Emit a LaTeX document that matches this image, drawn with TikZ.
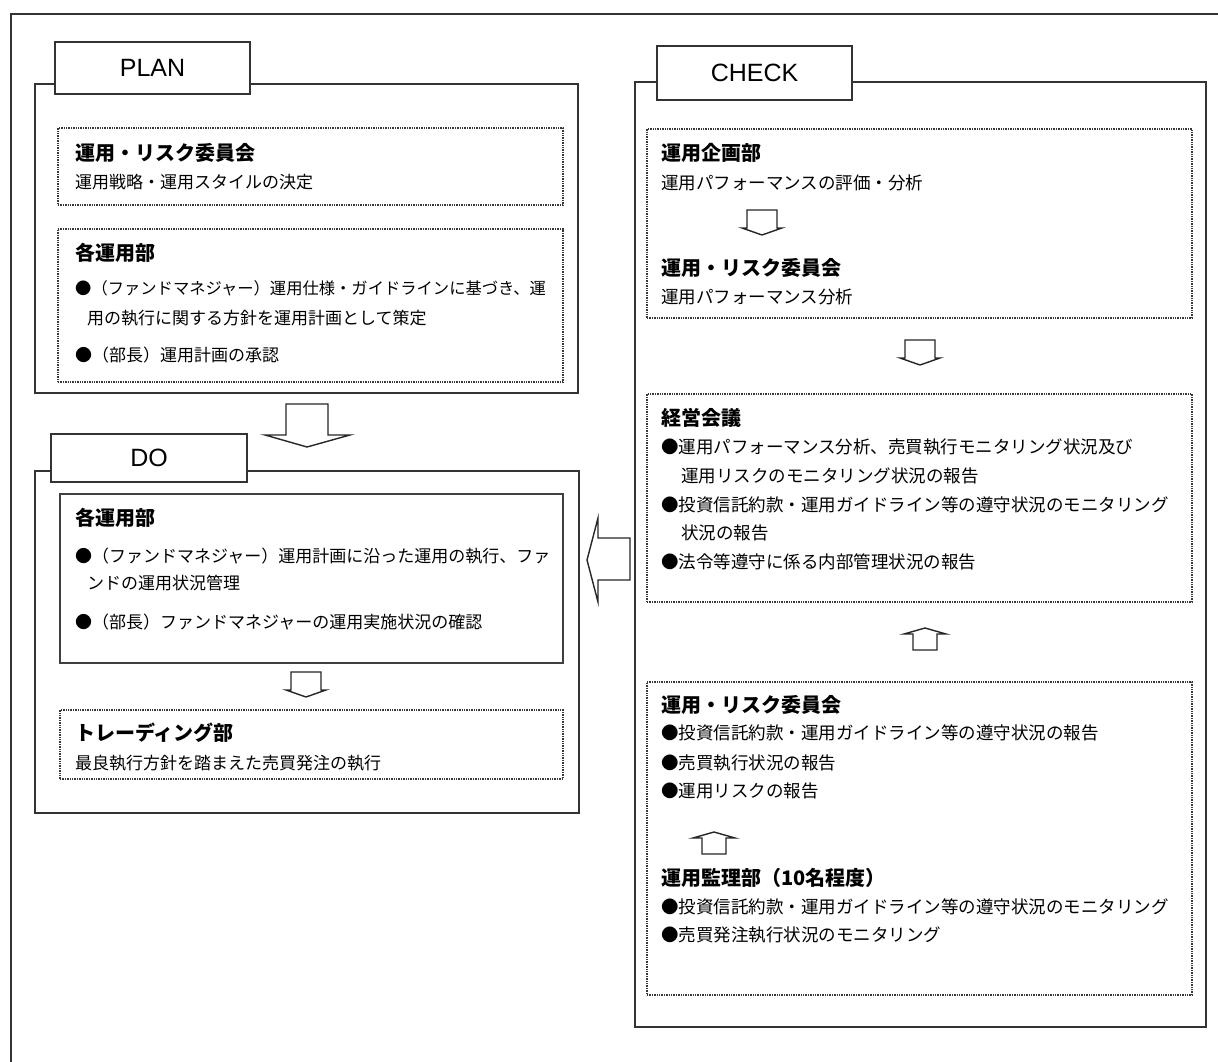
\documentclass[tikz,border=0pt]{standalone}
\usepackage{fontspec}
\setmainfont{Liberation Sans}
\newfontfamily\jp{Noto Sans CJK JP}
\begin{document}
\begin{tikzpicture}[x=1pt,y=-1pt,
  frame/.style={draw=black!80, line width=1.6pt, inner sep=0pt, outer sep=0pt},
  tab/.style={draw=black!80, line width=1.6pt, fill=white, inner sep=0pt, outer sep=0pt, font=\fontsize{25}{30}\selectfont},
  dotbox/.style={draw=black!78, line width=1.4pt, densely dotted, inner sep=0pt, outer sep=0pt},
  solidbox/.style={draw=black!75, line width=1.2pt, inner sep=0pt, outer sep=0pt},
  blk/.style={draw=black!85, line width=1.4pt, fill=white, line join=miter},
  hd/.style={anchor=west, inner sep=0pt, font=\jp\bfseries\fontsize{20}{24}\selectfont, text height=17.6pt, text depth=2.4pt},
  tx/.style={anchor=west, inner sep=0pt, font=\jp\fontsize{17}{20}\selectfont, text height=15pt, text depth=2pt},
  txc/.style={anchor=west, inner sep=0pt, font=\jp\fontsize{17.5}{20}\selectfont, text height=15.4pt, text depth=2.1pt},
  darr/.pic={\draw[blk] (-15,0) -- (15,0) -- (15,18) -- (20,18) -- (0,25) -- (-20,18) -- (-15,18) -- cycle;},
  uarr/.pic={\draw[blk] (0,0) -- (21,6) -- (12,6) -- (12,22) -- (-12,22) -- (-12,6) -- (-21,6) -- cycle;}
]
\useasboundingbox (0,0) rectangle (1218,1062);
% outer frame
\draw[frame] (11,1080) -- (11,14) -- (1240,14);

% PLAN
\node[frame, minimum width=543pt, minimum height=309pt] (planbox) at (306.5,238.5) {};
\node[tab, minimum width=195pt, minimum height=52pt] (plantab) at (152.5,68) {PLAN};
\node[dotbox, minimum width=505pt, minimum height=77pt] (p1) at (310.5,166.5) {};
\node[dotbox, minimum width=505pt, minimum height=153pt] (p2) at (310.5,305.5) {};
\node[hd] (p1h) at (75,153) {運用・リスク委員会};
\node[tx] (p1t) at (75,182) {運用戦略・運用スタイルの決定};
\node[hd] (p2h) at (75,253) {各運用部};
\node[tx, font=\jp\fontsize{16.3}{20}\selectfont] (p2a) at (75,288) {●（ファンドマネジャー）運用仕様・ガイドラインに基づき、運};
\node[tx] (p2b) at (87,318) {用の執行に関する方針を運用計画として策定};
\node[tx] (p2c) at (75,355) {●（部長）運用計画の承認};

% big arrow PLAN -> DO
\draw[blk] (286,404) -- (328,404) -- (328,435) -- (350,435) -- (307,447) -- (265,435) -- (286,435) -- cycle;

% DO
\node[frame, minimum width=544pt, minimum height=342pt] (dobox) at (307,642) {};
\node[tab, minimum width=196pt, minimum height=48pt] (dotab) at (149,458) {DO};
\node[solidbox, minimum width=503pt, minimum height=169pt] (d1) at (311.5,578.5) {};
\node[dotbox, minimum width=503pt, minimum height=69pt] (d2) at (311.5,744.5) {};
\node[hd] (d1h) at (75,518) {各運用部};
\node[tx] (d1a) at (75,556) {●（ファンドマネジャー）運用計画に沿った運用の執行、ファ};
\node[tx] (d1b) at (87,583) {ンドの運用状況管理};
\node[tx] (d1c) at (75,622) {●（部長）ファンドマネジャーの運用実施状況の確認};
\pic at (306,672) {darr};
\node[hd] (d2h) at (75,733) {トレーディング部};
\node[tx] (d2t) at (75,763) {最良執行方針を踏まえた売買発注の執行};

% left arrow CHECK -> DO
\draw[blk] (630,538) -- (598,538) -- (598,518) -- (587,560) -- (598,602) -- (598,580) -- (630,580) -- cycle;

% CHECK
\node[frame, minimum width=571pt, minimum height=945pt] (checkbox) at (920.5,554.5) {};
\node[tab, minimum width=195pt, minimum height=54pt] (checktab) at (754.5,73) {CHECK};
\node[dotbox, minimum width=545pt, minimum height=189pt] (c1) at (919.5,223.5) {};
\node[dotbox, minimum width=545pt, minimum height=208pt] (c2) at (919.5,498) {};
\node[dotbox, minimum width=545pt, minimum height=313pt] (c3) at (919.5,838.5) {};

\node[hd] (c1h) at (661,153) {運用企画部};
\node[txc] (c1t) at (661,183) {運用パフォーマンスの評価・分析};
\pic at (762,210) {darr};
\node[hd] (c1h2) at (661,268) {運用・リスク委員会};
\node[txc] (c1t2) at (661,297) {運用パフォーマンス分析};

\pic at (920,340) {darr};

\node[hd] (c2h) at (661,418) {経営会議};
\node[txc] (c2a) at (661,447) {●運用パフォーマンス分析、売買執行モニタリング状況及び};
\node[txc] (c2b) at (681,476) {運用リスクのモニタリング状況の報告};
\node[txc] (c2c) at (661,505) {●投資信託約款・運用ガイドライン等の遵守状況のモニタリング};
\node[txc] (c2d) at (681,533) {状況の報告};
\node[txc] (c2e) at (661,562) {●法令等遵守に係る内部管理状況の報告};

\pic at (925,628) {uarr};

\node[hd] (c3h) at (661,705) {運用・リスク委員会};
\node[txc] (c3a) at (661,733) {●投資信託約款・運用ガイドライン等の遵守状況の報告};
\node[txc] (c3b) at (661,763) {●売買執行状況の報告};
\node[txc] (c3c) at (661,791) {●運用リスクの報告};
\pic at (714,832) {uarr};
\node[hd] (c3h2) at (661,878) {運用監理部（10名程度）};
\node[txc] (c3d) at (661,907) {●投資信託約款・運用ガイドライン等の遵守状況のモニタリング};
\node[txc] (c3e) at (661,935) {●売買発注執行状況のモニタリング};
\end{tikzpicture}
\end{document}
